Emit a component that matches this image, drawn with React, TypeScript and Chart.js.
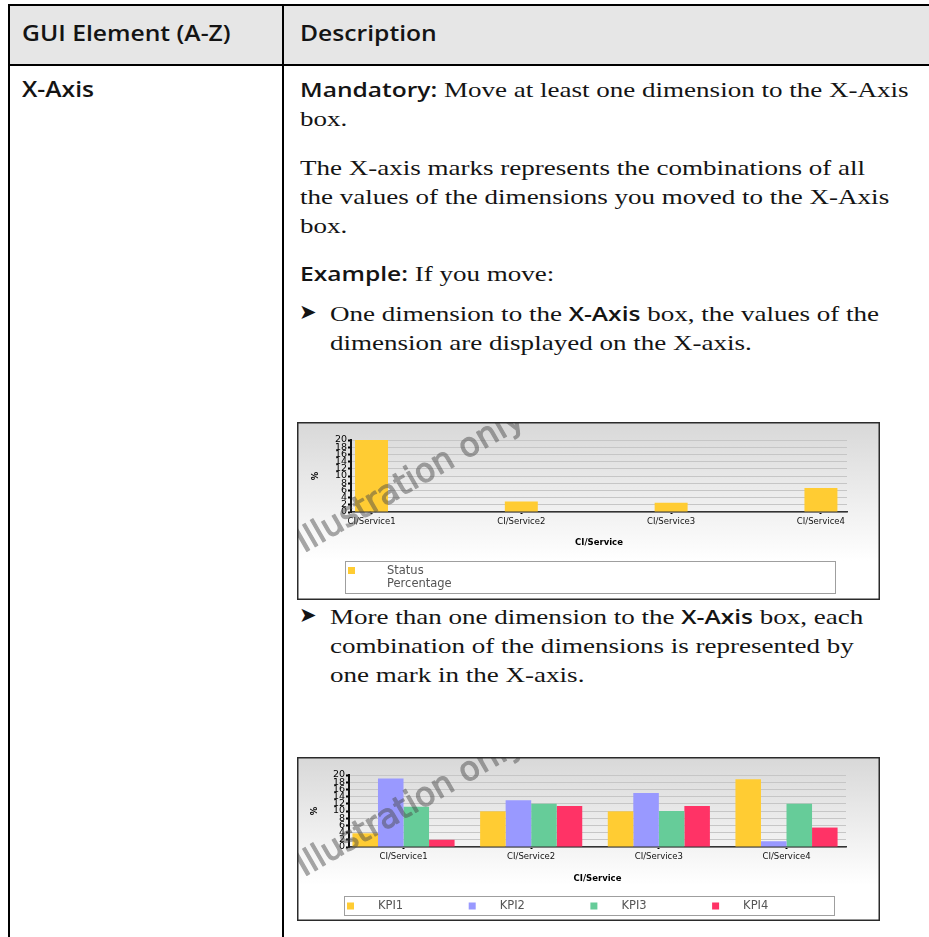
import React, { useEffect, useLayoutEffect, useRef, useState } from "react";
import { Chart, registerables } from "chart.js";

Chart.register(...registerables);

// ---------------- data ----------------
const categories = ["CI/Service1", "CI/Service2", "CI/Service3", "CI/Service4"];
const statusLabel = "Status Percentage";
const statusValues = [20, 2.9, 2.6, 6.7];
const kpiLabels = ["KPI1", "KPI2", "KPI3", "KPI4"];
const kpi1Values = [3.8, 9.9, 9.9, 18.8];
const kpi2Values = [19.0, 13.0, 15.0, 1.6];
const kpi3Values = [11.2, 12.0, 10.0, 12.0];
const kpi4Values = [2.0, 11.4, 11.4, 5.4];
const yTickValues = [0, 2, 4, 6, 8, 10, 12, 14, 16, 18, 20];
const seriesColors = ["#ffcc33", "#9999ff", "#66cc99", "#ff3366"];
const xTitle = "CI/Service";
const yTitle = "%";
const watermarkText = "Illustration only";

// ---------------- fonts ----------------
const SERIF = '"Liberation Serif", "Times New Roman", serif';
const SANS = '"Open Sans", "Noto Sans", sans-serif';
const CHART_FONT = "DejaVu Sans";

// ---------------- chart plumbing ----------------
const decorPlugin = {
  id: "chartDecor",
  beforeDraw(chart: any) {
    const { ctx, width, height } = chart;
    ctx.save();
    const g = ctx.createLinearGradient(0, 0, 0, height);
    g.addColorStop(0, "#d8d8d8");
    g.addColorStop(0.78, "#ffffff");
    g.addColorStop(1, "#ffffff");
    ctx.fillStyle = g;
    ctx.fillRect(0, 0, width, height);
    ctx.restore();
  },
  afterDraw(chart: any, _a: any, o: any) {
    const { ctx, width, height } = chart;
    ctx.save();
    // legend box
    ctx.fillStyle = "#ffffff";
    ctx.fillRect(o.lx, o.ly, o.lw, o.lh);
    ctx.strokeStyle = "#9f9f9f";
    ctx.lineWidth = 1;
    ctx.strokeRect(o.lx + 0.5, o.ly + 0.5, o.lw, o.lh);
    ctx.font = `11.5px "${CHART_FONT}"`;
    ctx.textBaseline = "middle";
    ctx.textAlign = "left";
    chart.data.datasets.forEach((ds: any, i: number) => {
      const mx = o.markerX + i * o.step;
      ctx.fillStyle = ds.backgroundColor;
      ctx.fillRect(mx, o.rowY - 3.5, 7, 7);
      ctx.fillStyle = "#555555";
      const lines = o.wrap ? String(ds.label).split(" ") : [ds.label];
      lines.forEach((t: string, j: number) => {
        ctx.fillText(t, mx + o.textDx, o.rowY + j * o.lineGap + 0.5);
      });
    });
    ctx.restore();

    // watermark: solid text on an offscreen layer, composited translucently
    const off = document.createElement("canvas");
    off.width = width;
    off.height = height;
    const oc = off.getContext("2d");
    if (oc) {
      oc.translate(o.wx, o.wy);
      oc.rotate((-30 * Math.PI) / 180);
      oc.font = `33px "${CHART_FONT}"`;
      oc.textBaseline = "alphabetic";
      oc.fillStyle = "#4a4a4a";
      oc.strokeStyle = "#4a4a4a";
      oc.lineWidth = 1.2;
      oc.lineJoin = "round";
      oc.fillText(watermarkText, 0, 0);
      oc.strokeText(watermarkText, 0, 0);
      ctx.save();
      ctx.globalAlpha = 0.48;
      ctx.drawImage(off, 0, 0);
      ctx.restore();
    }

    // frame
    ctx.save();
    ctx.strokeStyle = "#2b2b2b";
    ctx.lineWidth = 1.5;
    ctx.strokeRect(0.75, 0.75, width - 1.5, height - 1.5);
    ctx.restore();
  },
};

type Series = { label: string; values: number[]; color: string };
type Spec = {
  W: number;
  H: number;
  plotLeft: number;
  plotRight: number;
  plotTop: number;
  plotBottom: number;
  xAxisH: number;
  xMin: number;
  xMax: number;
  barPct: number;
  xTitleCenter: number;
  yTitleCenter: number;
  series: Series[];
  decor: any;
};

function buildConfig(s: Spec): any {
  const xTickFont = { family: CHART_FONT, size: 8.5 };
  const yTickFont = { family: CHART_FONT, size: 9.5 };
  const titleFont = { family: CHART_FONT, size: 8.5, weight: "bold" as const };
  const titleLH = 8.5 * 1.2;
  return {
    type: "bar",
    data: {
      datasets: s.series.map((ser) => ({
        label: ser.label,
        data: ser.values.map((v, i) => ({ x: i, y: v })),
        backgroundColor: ser.color,
        borderWidth: 0,
        categoryPercentage: 0.8,
        barPercentage: s.barPct,
      })),
    },
    options: {
      responsive: false,
      animation: false,
      devicePixelRatio: 1,
      events: [],
      layout: {
        padding: {
          left: 0,
          top: s.plotTop,
          right: s.W - s.plotRight,
          bottom: s.H - s.plotBottom - s.xAxisH,
        },
      },
      plugins: {
        legend: { display: false },
        tooltip: { enabled: false },
        chartDecor: s.decor,
      },
      scales: {
        x: {
          type: "linear",
          min: s.xMin,
          max: s.xMax,
          offset: false,
          afterBuildTicks: (sc: any) => {
            sc.ticks = categories.map((_, i) => ({ value: i }));
          },
          afterFit: (sc: any) => {
            sc.height = s.xAxisH;
          },
          ticks: {
            autoSkip: false,
            maxRotation: 0,
            minRotation: 0,
            padding: 3,
            color: "#111111",
            font: xTickFont,
            callback: (v: any) => categories[Math.round(Number(v))] ?? "",
          },
          grid: {
            display: true,
            drawOnChartArea: false,
            drawTicks: true,
            tickLength: 2,
            tickColor: "#000000",
            tickWidth: 2,
            offset: false,
          },
          border: { display: true, color: "#333333", width: 1.5 },
          title: {
            display: true,
            text: xTitle,
            color: "#000000",
            font: titleFont,
            padding: { top: 0, bottom: s.plotBottom + s.xAxisH - s.xTitleCenter - titleLH / 2 },
          },
        },
        y: {
          type: "linear",
          min: 0,
          max: 20,
          afterBuildTicks: (sc: any) => {
            sc.ticks = yTickValues.map((v) => ({ value: v }));
          },
          afterFit: (sc: any) => {
            sc.width = s.plotLeft;
          },
          ticks: { autoSkip: false, padding: 1, color: "#000000", font: yTickFont },
          grid: {
            color: "#c6c6c6",
            lineWidth: 1,
            drawTicks: true,
            tickLength: 3,
            tickColor: "#000000",
            tickWidth: 2,
          },
          border: { display: true, color: "#111111", width: 2 },
          title: {
            display: true,
            text: yTitle,
            color: "#000000",
            font: titleFont,
            padding: { top: s.yTitleCenter - titleLH / 2, bottom: 0 },
          },
        },
      },
    },
    plugins: [decorPlugin],
  };
}

function BarChart({ spec, left, top }: { spec: Spec; left: number; top: number }) {
  const ref = useRef<HTMLCanvasElement | null>(null);
  useEffect(() => {
    if (!ref.current) return;
    const chart = new Chart(ref.current, buildConfig(spec));
    return () => chart.destroy();
  }, []);
  return (
    <canvas
      ref={ref}
      width={spec.W}
      height={spec.H}
      style={{ position: "absolute", left, top, width: spec.W, height: spec.H, display: "block" }}
    />
  );
}

const spec1: Spec = {
  W: 583,
  H: 178,
  plotLeft: 54,
  plotRight: 550,
  plotTop: 18,
  plotBottom: 90,
  xAxisH: 40,
  xMin: -0.137,
  xMax: 3.174,
  barPct: 0.275,
  xTitleCenter: 121,
  yTitleCenter: 19,
  series: [{ label: statusLabel, values: statusValues, color: seriesColors[0] }],
  decor: {
    lx: 48, ly: 139, lw: 490, lh: 32,
    markerX: 51, step: 121.7, textDx: 39, rowY: 148.5, lineGap: 13, wrap: true,
    wx: 7, wy: 131,
  },
};

const spec2: Spec = {
  W: 583,
  H: 164,
  plotLeft: 52,
  plotRight: 549,
  plotTop: 18,
  plotBottom: 90,
  xAxisH: 40,
  xMin: -0.427,
  xMax: 3.466,
  barPct: 1,
  xTitleCenter: 122,
  yTitleCenter: 18,
  series: kpiLabels.map((l, i) => ({
    label: l,
    values: [kpi1Values, kpi2Values, kpi3Values, kpi4Values][i],
    color: seriesColors[i],
  })),
  decor: {
    lx: 47, ly: 139, lw: 490, lh: 19,
    markerX: 50, step: 121.7, textDx: 31, rowY: 149, lineGap: 13, wrap: false,
    wx: 7, wy: 120,
  },
};

// ---------------- page text ----------------
function B({ children }: { children: React.ReactNode }) {
  return <span style={{ fontFamily: SANS, fontWeight: 600, fontSize: 20 }}>{children}</span>;
}

function Line({
  x,
  top,
  k,
  children,
  innerRef,
}: {
  x: number;
  top: number;
  k: number;
  children: React.ReactNode;
  innerRef?: any;
}) {
  return (
    <div
      style={{
        position: "absolute",
        left: x,
        top,
        height: 29,
        lineHeight: "29px",
        whiteSpace: "nowrap",
        transformOrigin: "0 0",
        transform: `scaleX(${k})`,
        fontFamily: SERIF,
        fontSize: 22,
        color: "#141414",
      }}
    >
      <span ref={innerRef}>{children}</span>
    </div>
  );
}

function Bullet({ top }: { top: number }) {
  return (
    <div
      style={{
        position: "absolute",
        left: 299,
        top,
        height: 29,
        lineHeight: "29px",
        fontFamily: '"DejaVu Sans", sans-serif',
        fontSize: 21,
        color: "#141414",
      }}
    >
      ➤
    </div>
  );
}

function HeadText({ x, top, k, children, innerRef }: any) {
  return (
    <div
      style={{
        position: "absolute",
        left: x,
        top,
        height: 29,
        lineHeight: "29px",
        whiteSpace: "nowrap",
        transformOrigin: "0 0",
        transform: `scaleX(${k})`,
        fontFamily: SANS,
        fontWeight: 600,
        fontSize: 21,
        color: "#141414",
      }}
    >
      <span ref={innerRef}>{children}</span>
    </div>
  );
}

export default function App() {
  const line1Ref = useRef<HTMLSpanElement | null>(null);
  const headRef = useRef<HTMLSpanElement | null>(null);
  const [kBody, setKBody] = useState(1);
  const [kHead, setKHead] = useState(1);

  useLayoutEffect(() => {
    const measure = () => {
      if (line1Ref.current && line1Ref.current.offsetWidth > 0) setKBody(608 / line1Ref.current.offsetWidth);
      if (headRef.current && headRef.current.offsetWidth > 0) setKHead(209 / headRef.current.offsetWidth);
    };
    measure();
    if ((document as any).fonts && (document as any).fonts.ready) (document as any).fonts.ready.then(measure);
  }, []);

  return (
    <div
      style={{
        position: "fixed",
        left: 0,
        top: 0,
        width: 929,
        height: 937,
        overflow: "hidden",
        background: "#ffffff",
      }}
    >
      {/* table frame */}
      <div style={{ position: "absolute", left: 9, top: 6, width: 920, height: 58, background: "#e6e6e6" }} />
      <div style={{ position: "absolute", left: 8, top: 4, width: 921, height: 2, background: "#000" }} />
      <div style={{ position: "absolute", left: 8, top: 64, width: 921, height: 2, background: "#000" }} />
      <div style={{ position: "absolute", left: 8, top: 4, width: 2, height: 933, background: "#000" }} />
      <div style={{ position: "absolute", left: 282, top: 4, width: 2, height: 933, background: "#000" }} />

      {/* header */}
      <HeadText x={22} top={19} k={kHead} innerRef={headRef}>GUI Element (A-Z)</HeadText>
      <HeadText x={300} top={19} k={kHead}>Description</HeadText>

      {/* left column */}
      <HeadText x={22} top={75} k={kHead}>X-Axis</HeadText>

      {/* right column */}
      <Line x={300} top={75} k={kBody} innerRef={line1Ref}>
        <B>Mandatory:</B> Move at least one dimension to the X-Axis
      </Line>
      <Line x={300} top={104} k={kBody}>box.</Line>
      <Line x={300} top={153} k={kBody}>The X-axis marks represents the combinations of all</Line>
      <Line x={300} top={182} k={kBody}>the values of the dimensions you moved to the X-Axis</Line>
      <Line x={300} top={211} k={kBody}>box.</Line>
      <Line x={300} top={259} k={kBody}>
        <B>Example:</B> If you move:
      </Line>
      <Bullet top={298} />
      <Line x={330} top={299} k={kBody}>
        One dimension to the <B>X-Axis</B> box, the values of the
      </Line>
      <Line x={330} top={328} k={kBody}>dimension are displayed on the X-axis.</Line>

      <BarChart spec={spec1} left={297} top={422} />

      <Bullet top={601} />
      <Line x={330} top={602} k={kBody}>
        More than one dimension to the <B>X-Axis</B> box, each
      </Line>
      <Line x={330} top={631} k={kBody}>combination of the dimensions is represented by</Line>
      <Line x={330} top={660} k={kBody}>one mark in the X-axis.</Line>

      <BarChart spec={spec2} left={297} top={757} />
    </div>
  );
}
